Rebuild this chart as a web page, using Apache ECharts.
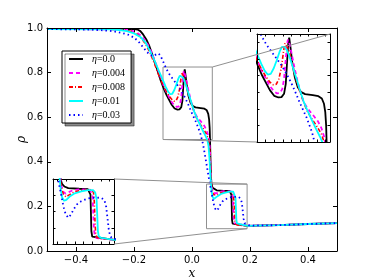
<!DOCTYPE html>
<html><head><meta charset="utf-8">
<script src="https://cdn.jsdelivr.net/npm/echarts@6/dist/echarts.min.js"></script>
<style>html,body{margin:0;padding:0;background:#fff}#c{width:374px;height:280px}</style>
</head><body><div id="c"></div>
<script>
const seriesNames = ['η=0.0','η=0.004','η=0.008','η=0.01','η=0.03'];
const eta0 = [[-0.5,0.995],[-0.2,0.995],[-0.188,0.993],[-0.178,0.986],[-0.168,0.97],[-0.158,0.95],[-0.148,0.922],[-0.138,0.885],[-0.128,0.845],[-0.118,0.805],[-0.108,0.765],[-0.098,0.73],[-0.088,0.7],[-0.079,0.678],[-0.07,0.656],[-0.06,0.639],[-0.05,0.634],[-0.043,0.635],[-0.037,0.645],[-0.033,0.675],[-0.03,0.74],[-0.027,0.8],[-0.025,0.814],[-0.022,0.785],[-0.018,0.74],[-0.012,0.695],[-0.005,0.665],[0.003,0.65],[0.012,0.644],[0.03,0.641],[0.043,0.638],[0.051,0.631],[0.056,0.615],[0.059,0.59],[0.061,0.55],[0.0625,0.48],[0.064,0.4],[0.0655,0.33],[0.0675,0.298],[0.071,0.284],[0.076,0.277],[0.085,0.272],[0.11,0.27],[0.13,0.269],[0.134,0.264],[0.136,0.252],[0.137,0.2],[0.138,0.14],[0.14,0.123],[0.143,0.118],[0.19,0.113],[0.3,0.116],[0.4,0.121],[0.5,0.125]];
const eta004 = [[-0.5,0.995],[-0.25,0.994],[-0.22,0.991],[-0.2,0.985],[-0.185,0.975],[-0.17,0.958],[-0.155,0.932],[-0.14,0.893],[-0.125,0.842],[-0.11,0.785],[-0.1,0.748],[-0.09,0.718],[-0.08,0.693],[-0.07,0.668],[-0.06,0.652],[-0.053,0.646],[-0.046,0.648],[-0.041,0.66],[-0.037,0.69],[-0.033,0.75],[-0.03,0.795],[-0.028,0.808],[-0.025,0.8],[-0.02,0.77],[-0.013,0.725],[-0.006,0.685],[0.0,0.655],[0.008,0.622],[0.018,0.6],[0.03,0.582],[0.042,0.562],[0.05,0.542],[0.056,0.517],[0.06,0.49],[0.062,0.45],[0.064,0.38],[0.066,0.31],[0.069,0.28],[0.074,0.26],[0.079,0.255],[0.085,0.259],[0.095,0.265],[0.11,0.268],[0.135,0.267],[0.139,0.262],[0.141,0.245],[0.1425,0.19],[0.144,0.145],[0.146,0.125],[0.15,0.118],[0.19,0.113],[0.3,0.116],[0.4,0.121],[0.5,0.125]];
const eta008 = [[-0.5,0.995],[-0.26,0.994],[-0.23,0.99],[-0.205,0.983],[-0.19,0.973],[-0.175,0.955],[-0.16,0.928],[-0.145,0.89],[-0.13,0.842],[-0.115,0.79],[-0.1,0.745],[-0.09,0.72],[-0.08,0.698],[-0.07,0.68],[-0.062,0.672],[-0.055,0.674],[-0.049,0.69],[-0.043,0.725],[-0.038,0.775],[-0.035,0.797],[-0.031,0.798],[-0.026,0.778],[-0.019,0.74],[-0.011,0.698],[-0.003,0.662],[0.006,0.63],[0.015,0.598],[0.026,0.573],[0.039,0.548],[0.05,0.524],[0.057,0.497],[0.061,0.455],[0.064,0.37],[0.066,0.31],[0.069,0.275],[0.074,0.252],[0.08,0.245],[0.088,0.252],[0.1,0.261],[0.12,0.266],[0.14,0.266],[0.143,0.258],[0.145,0.225],[0.1465,0.165],[0.148,0.132],[0.151,0.12],[0.16,0.116],[0.19,0.113],[0.3,0.116],[0.4,0.121],[0.5,0.125]];
const eta01 = [[-0.5,0.995],[-0.28,0.994],[-0.25,0.991],[-0.224,0.986],[-0.2,0.976],[-0.178,0.96],[-0.16,0.934],[-0.144,0.895],[-0.13,0.856],[-0.115,0.81],[-0.1,0.765],[-0.09,0.735],[-0.082,0.714],[-0.075,0.703],[-0.068,0.705],[-0.061,0.722],[-0.054,0.746],[-0.047,0.773],[-0.042,0.786],[-0.036,0.786],[-0.031,0.778],[-0.024,0.756],[-0.016,0.723],[-0.008,0.69],[0.0,0.656],[0.008,0.624],[0.017,0.596],[0.028,0.565],[0.038,0.538],[0.047,0.515],[0.053,0.497],[0.057,0.47],[0.06,0.42],[0.063,0.35],[0.0655,0.298],[0.0677,0.268],[0.0707,0.244],[0.0753,0.233],[0.0806,0.236],[0.0883,0.246],[0.1,0.256],[0.115,0.262],[0.13,0.266],[0.142,0.266],[0.147,0.258],[0.15,0.238],[0.1515,0.19],[0.153,0.14],[0.155,0.124],[0.16,0.119],[0.19,0.113],[0.3,0.116],[0.4,0.121],[0.5,0.125]];
const eta03 = [[-0.5,0.995],[-0.35,0.993],[-0.3,0.989],[-0.27,0.985],[-0.245,0.979],[-0.22,0.97],[-0.2,0.957],[-0.185,0.94],[-0.17,0.916],[-0.155,0.892],[-0.143,0.878],[-0.133,0.875],[-0.123,0.882],[-0.115,0.886],[-0.108,0.874],[-0.099,0.848],[-0.089,0.818],[-0.079,0.795],[-0.068,0.775],[-0.055,0.752],[-0.045,0.735],[-0.035,0.714],[-0.025,0.69],[-0.016,0.666],[-0.008,0.642],[0.0,0.617],[0.015,0.575],[0.028,0.53],[0.038,0.48],[0.048,0.405],[0.057,0.335],[0.063,0.29],[0.069,0.25],[0.074,0.215],[0.079,0.192],[0.085,0.181],[0.091,0.19],[0.097,0.206],[0.105,0.222],[0.115,0.232],[0.13,0.24],[0.146,0.243],[0.161,0.242],[0.168,0.235],[0.172,0.215],[0.175,0.18],[0.178,0.145],[0.181,0.125],[0.186,0.117],[0.2,0.114],[0.3,0.116],[0.4,0.121],[0.5,0.125]];
const allData = [eta0, eta004, eta008, eta01, eta03];

const mainXTicks = [-0.4,-0.2,0,0.2,0.4];
const mainYTicks = [0,0.2,0.4,0.6,0.8,1.0];
const inset1XTicks = [-0.08,-0.06,-0.04,-0.02,0,0.02,0.04,0.06];
const inset1YTicks = [0.55,0.6,0.65,0.7,0.75,0.8];
const inset2XTicks = [0.06,0.08,0.1,0.12,0.14,0.16,0.18];
const inset2YTicks = [0.15,0.2,0.25];
const mainXRange = [-0.5,0.5], mainYRange = [0,1];
const box1X = [-0.1,0.07], box1Y = [0.5,0.825];
const box2X = [0.05,0.19], box2Y = [0.1,0.3];

const colors = ['#000000','#ff00ff','#ff0000','#00ffff','#0000ff'];
const lineTypes = ['solid',[4,3],[4,2,1,2],'solid',[1.5,3]];
const widths = [1.8,1.8,1.6,1.8,1.8];

const grids = [
  {left:47, top:28, width:290, height:223},
  {left:257, top:34, width:73, height:108},
  {left:53, top:179, width:61, height:65}
];
const ranges = [[mainXRange,mainYRange,mainXTicks,mainYTicks],[box1X,box1Y,inset1XTicks,inset1YTicks],[box2X,box2Y,inset2XTicks,inset2YTicks]];

const xAxes = [], yAxes = [];
const fontSans = 'DejaVu Sans';
ranges.forEach((r, g) => {
  const main = g === 0;
  const tickLen = main ? 4 : 2.5;
  ['bottom','top'].forEach((pos, k) => {
    xAxes.push({
      type:'value', gridIndex:g, position:pos, min:r[0][0], max:r[0][1], z:20,
      splitLine:{show:false},
      axisLine:{show:true, onZero:false, lineStyle:{color:'#000', width:1}},
      axisTick:{show:true, inside:true, length:tickLen, customValues:r[2], lineStyle:{color:'#000'}},
      axisLabel:{show: main && k===0, customValues:r[2], margin:4, fontFamily:fontSans, fontSize:10, color:'#000',
        formatter: v => (v < -1e-9 ? '\u2212' : '') + Math.abs(v).toFixed(1)},
      name: (main && k===0) ? 'x' : '', nameLocation:'middle', nameGap:17, nameMoveOverlap:false,
      nameTextStyle:{fontFamily:'DejaVu Serif', fontStyle:'italic', fontSize:12, color:'#000'}
    });
  });
  ['left','right'].forEach((pos, k) => {
    yAxes.push({
      type:'value', gridIndex:g, position:pos, min:r[1][0], max:r[1][1], z:20,
      splitLine:{show:false},
      axisLine:{show:true, onZero:false, lineStyle:{color:'#000', width:1}},
      axisTick:{show:true, inside:true, length:tickLen, customValues:r[3], lineStyle:{color:'#000'}},
      axisLabel:{show: main && k===0, customValues:r[3], margin:4, fontFamily:fontSans, fontSize:10, color:'#000',
        formatter: v => v.toFixed(1)},
      name: (main && k===0) ? 'ρ' : '', nameLocation:'middle', nameGap:19, nameRotate:90, nameMoveOverlap:false,
      nameTextStyle:{fontFamily:'DejaVu Serif', fontStyle:'italic', fontSize:12, color:'#000'}
    });
  });
});

const series = [];
for (let g = 0; g < 3; g++) {
  allData.forEach((d, i) => {
    const s = {
      type:'line', name:seriesNames[i], data:d, xAxisIndex:2*g, yAxisIndex:2*g,
      symbol:'none', showSymbol:false, clip:true, animation:false, silent:true,
      lineStyle:{color:colors[i], width:widths[i], type:lineTypes[i]},
      itemStyle:{color:colors[i]}, z: 3 + i + g*10
    };
    if (g === 0 && i === 0) {
      s.markArea = {
        silent:true, label:{show:false},
        itemStyle:{color:'rgba(0,0,0,0)', borderColor:'#909090', borderWidth:1},
        data:[
          [{coord:[box1X[0], box1Y[1]]},{coord:[box1X[1], box1Y[0]]}],
          [{coord:[box2X[0], box2Y[1]]},{coord:[box2X[1], box2Y[0]]}]
        ]
      };
    }
    series.push(s);
  });
}

const chart = echarts.init(document.getElementById('c'), null, {renderer:'canvas'});
chart.setOption({
  animation:false,
  backgroundColor:'#fff',
  grid: grids.map(gr => Object.assign({show:false, outerBoundsMode:'none', containLabel:false}, gr)),
  xAxis: xAxes, yAxis: yAxes,
  legend: {
    data: seriesNames, orient:'vertical', left:62, top:51,
    padding:[3,6,3,6], itemWidth:14, itemHeight:10, itemGap:4,
    backgroundColor:'#fff', borderColor:'#000', borderWidth:1,
    shadowColor:'rgba(0,0,0,0.45)', shadowOffsetX:3, shadowOffsetY:3, shadowBlur:0,
    selectedMode:false,
    itemStyle:{opacity:0},
    textStyle:{fontFamily:'Liberation Serif', fontSize:10, color:'#000', lineHeight:10, padding:[0,0,0,4],
      rich:{i:{fontFamily:'Liberation Serif', fontStyle:'italic', fontSize:10, lineHeight:10}}},
    formatter: name => '{i|η}' + name.slice(1)
  },
  series: series
});

function px(g, x, y) { return chart.convertToPixel({xAxisIndex:2*g, yAxisIndex:2*g}, [x, y]); }
const connectors = [
  [1, box1X[1], box1Y[1]], [1, box1X[0], box1Y[0]],
  [2, box2X[1], box2Y[1]], [2, box2X[1], box2Y[0]]
];
chart.setOption({
  graphic: connectors.map(c => {
    const a = px(0, c[1], c[2]), b = px(c[0], c[1], c[2]);
    return {type:'line', z:100, silent:true, shape:{x1:a[0], y1:a[1], x2:b[0], y2:b[1]}, style:{stroke:'#909090', lineWidth:1}};
  })
});
</script></body></html>
